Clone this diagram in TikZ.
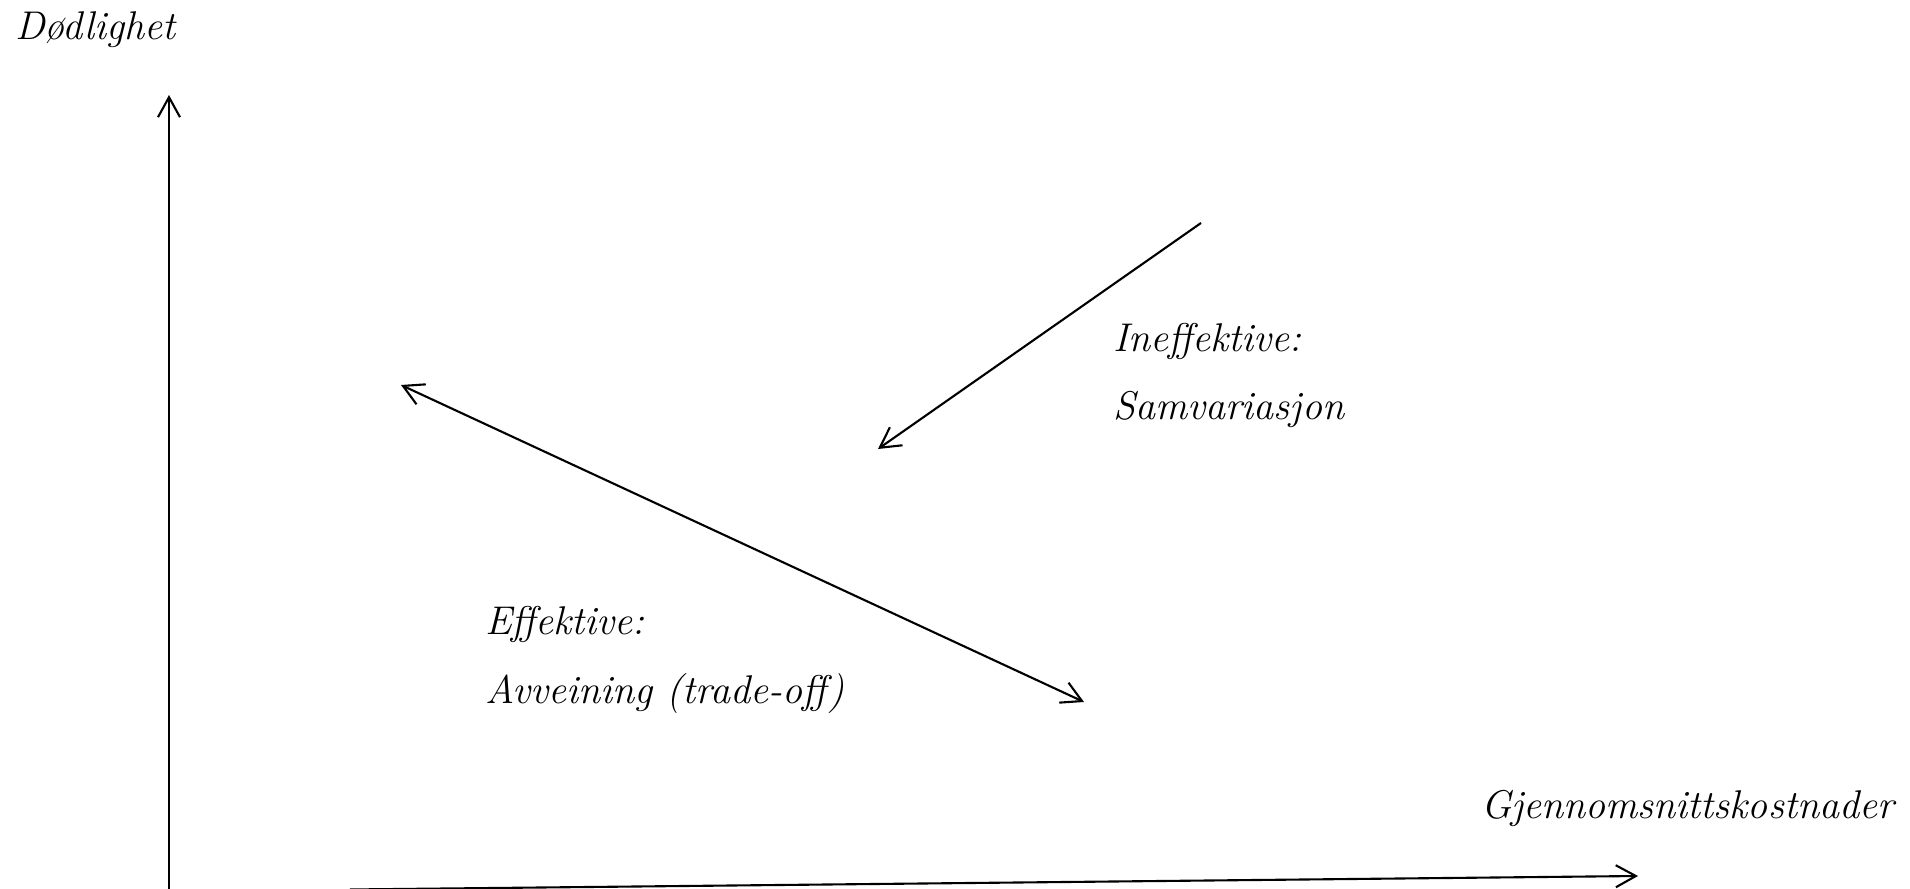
\documentclass[tikz,border=0pt]{standalone}
\usepackage{tikz}
\usetikzlibrary{arrows.meta}

\begin{document}
\begin{tikzpicture}[x=0.01cm,y=-0.01cm,line width=0.6pt,>={Straight Barb[length=2mm,width=2.2mm]},
  lbl/.style={anchor=base west,inner sep=0pt,align=left,font=\fontsize{11.4}{19.4}\selectfont\itshape}]
  \useasboundingbox (0,0) rectangle (1910,889);
  % akser
  \coordinate (origo) at (169,891);
  \coordinate (ytopp) at (169,95);
  \coordinate (xstart) at (350,889.5);
  \coordinate (xslutt) at (1638,876);
  \draw[->] (origo)--(ytopp);
  \draw[->] (xstart)--(xslutt);
  \node[lbl] (ylab) at (14,40){Dødlighet};
  \node[lbl] (xlab) at (1480,818){Gjennomsnittskostnader};
  % ineffektive: samvariasjon
  \coordinate (ineffA) at (1201,223);
  \coordinate (ineffB) at (878,449);
  \draw[->] (ineffA)--(ineffB);
  \node[lbl] (ineff) at (1112,420){Ineffektive:\\Samvariasjon};
  % effektive: avveining
  \coordinate (effA) at (401,385);
  \coordinate (effB) at (1084,702);
  \draw[<->] (effA)--(effB);
  \node[lbl] (eff) at (484,703){Effektive:\\Avveining (trade-off)};
\end{tikzpicture}
\end{document}
